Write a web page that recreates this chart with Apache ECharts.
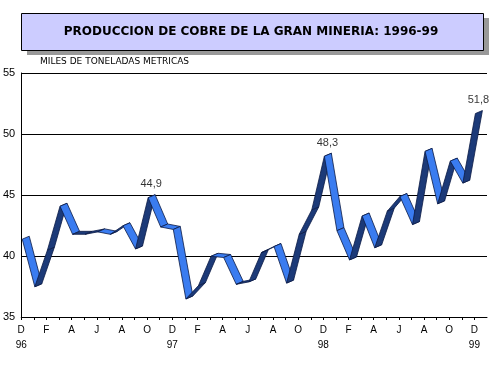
<!DOCTYPE html>
<html>
<head>
<meta charset="utf-8">
<script src="https://cdn.jsdelivr.net/npm/echarts@6/dist/echarts.min.js"></script>
<style>html,body{margin:0;padding:0;background:#fff;}#c{width:501px;height:375px;}</style>
</head>
<body>
<div id="c"></div>
<script>
var months = ['D','E','F','M','A','M','J','J','A','S','O','N',
              'D','E','F','M','A','M','J','J','A','S','O','N',
              'D','E','F','M','A','M','J','J','A','S','O','N','D'];
var yearLabels = {0:'96', 12:'97', 24:'98', 36:'99'};
var production = [41.5, 37.6, 40.6, 44.2, 41.9, 41.9, 42.1, 41.9, 42.6, 40.7, 44.9, 42.5,
                  42.3, 36.6, 37.7, 40.1, 40.0, 37.8, 38.0, 40.4, 40.9, 37.9, 41.9, 43.9,
                  48.3, 42.2, 39.8, 43.4, 40.8, 43.8, 45.0, 42.7, 48.7, 44.4, 47.9, 46.1, 51.8];
var labelledIdx = [10, 24, 36];
var yTicks = {min: 35, max: 55, interval: 5};
var titleText = 'PRODUCCION DE COBRE DE LA GRAN MINERIA: 1996-99';
var unitText = 'MILES DE TONELADAS METRICAS';

var categories = months.concat(['']);
var segData = [];
for (var i = 0; i < production.length - 1; i++) {
  segData.push([i, production[i], production[i + 1]]);
}
var labelData = labelledIdx.map(function (k) { return [k, production[k]]; });

var chart = echarts.init(document.getElementById('c'), null, {renderer: 'canvas'});
chart.setOption({
  animation: false,
  backgroundColor: '#ffffff',
  grid: {left: 21, right: 14, top: 73, bottom: 58},
  xAxis: {
    type: 'category',
    data: categories,
    boundaryGap: false,
    axisLine: {show: true, lineStyle: {color: '#000', width: 1}},
    axisTick: {show: true, length: 3, lineStyle: {color: '#000'},
      interval: function (idx) { return idx <= 36; }},
    axisLabel: {
      interval: function (idx) { return idx % 2 === 0 && idx <= 36; },
      color: '#000', fontFamily: 'Liberation Sans', fontSize: 10, margin: 6, lineHeight: 15,
      formatter: function (v, idx) { return yearLabels[idx] ? v + '\n' + yearLabels[idx] : v; }
    },
    splitLine: {show: false}
  },
  yAxis: {
    type: 'value', min: yTicks.min, max: yTicks.max, interval: yTicks.interval,
    axisLine: {show: true, lineStyle: {color: '#000', width: 1}},
    axisTick: {show: false},
    axisLabel: {color: '#000', fontFamily: 'Liberation Sans', fontSize: 11, margin: 6},
    splitLine: {show: true, lineStyle: {color: '#000', width: 1}}
  },
  graphic: [
    {type: 'rect', shape: {x: 27, y: 18, width: 462, height: 37}, style: {fill: '#999999'}, z: 1},
    {type: 'rect', shape: {x: 21.5, y: 13.5, width: 462, height: 37}, style: {fill: '#ccccff', stroke: '#000', lineWidth: 1}, z: 2},
    {type: 'text', x: 251, y: 32, z: 3, style: {text: titleText, fill: '#000', font: 'bold 12px "DejaVu Sans"', align: 'center', verticalAlign: 'middle'}},
    {type: 'text', x: 40, y: 62, z: 3, style: {text: unitText, fill: '#000', font: '9px "DejaVu Sans"', align: 'left', verticalAlign: 'middle'}}
  ],
  series: [
    {
      type: 'custom',
      data: segData,
      encode: {x: 0, y: 1},
      renderItem: function (params, api) {
        var a = api.coord([api.value(0), api.value(1)]);
        var b = api.coord([api.value(0) + 1, api.value(2)]);
        var down = api.value(2) < api.value(1);
        return {
          type: 'polygon',
          shape: {points: [[a[0] + 1, a[1] + 1.5], [b[0] + 1, b[1] + 1.5], [b[0] + 8, b[1] - 1.5], [a[0] + 8, a[1] - 1.5]]},
          style: {fill: down ? '#3a7cf0' : '#1c3a78', stroke: '#0b1a45', lineWidth: 0.8}
        };
      },
      z: 5
    },
    {
      type: 'scatter',
      data: labelData,
      symbolSize: 1,
      itemStyle: {color: 'transparent'},
      label: {show: true, position: 'top', distance: 6, offset: [4, 0], color: '#000',
        fontFamily: 'Liberation Sans', fontSize: 11,
        formatter: function (p) { return p.value[1].toFixed(1).replace('.', ','); }},
      z: 6
    }
  ]
});
</script>
</body>
</html>
